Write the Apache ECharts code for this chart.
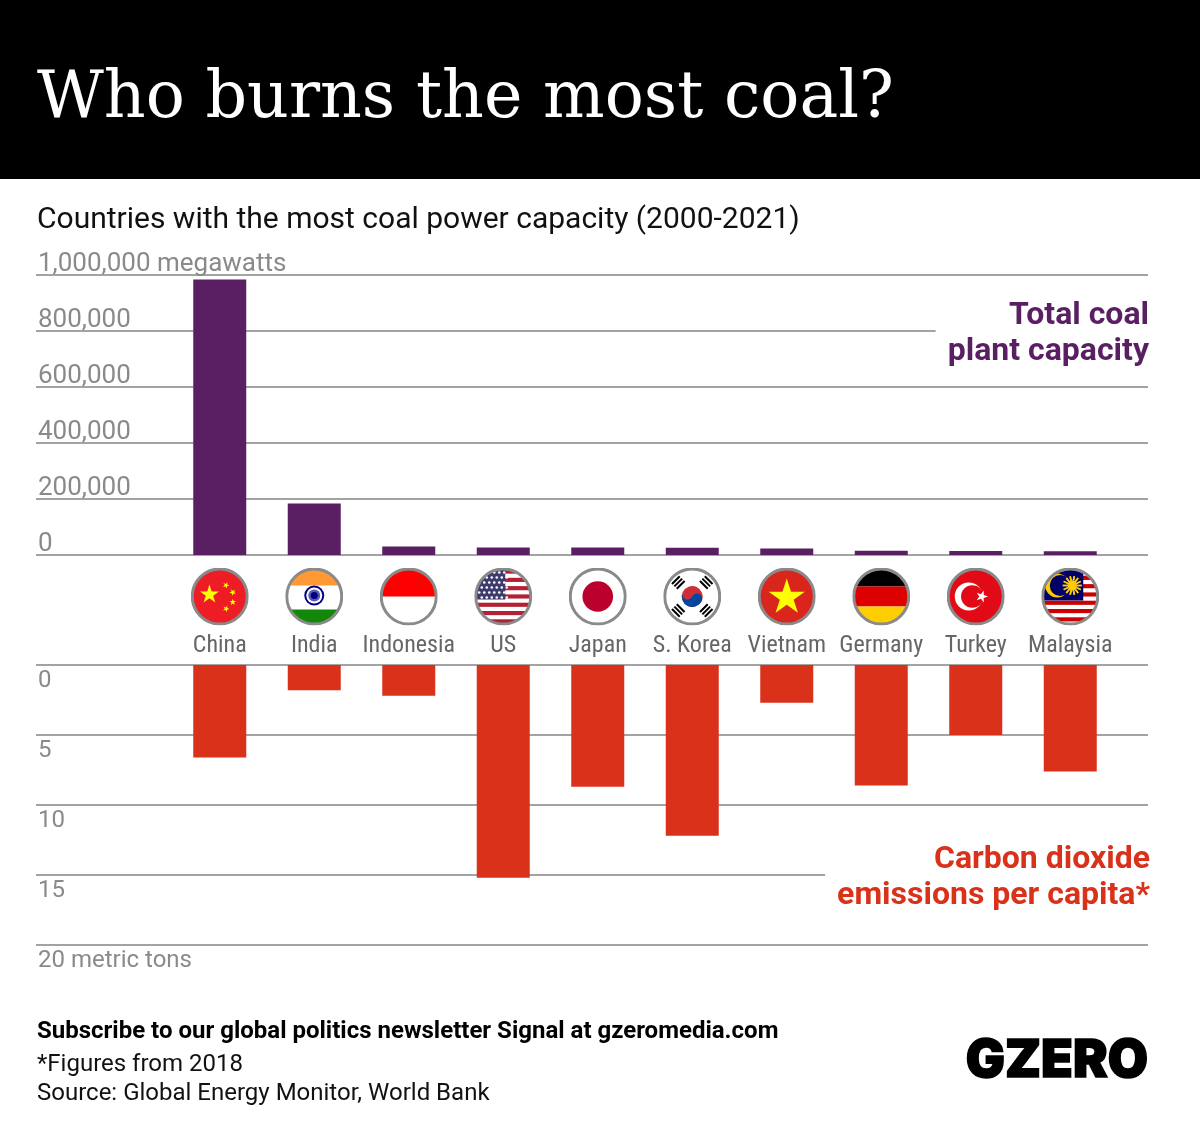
<!DOCTYPE html>
<html>
<head>
<meta charset="utf-8">
<title>Who burns the most coal?</title>
<style>
html, body { margin: 0; padding: 0; background: #fff; }
#chart { width: 1200px; height: 1126px; }
</style>
<script src="https://cdn.jsdelivr.net/npm/echarts@6/dist/echarts.min.js"></script>
</head>
<body>
<div id="chart"></div>
<script>
var countries = ['China', 'India', 'Indonesia', 'US', 'Japan', 'S. Korea', 'Vietnam', 'Germany', 'Turkey', 'Malaysia'];
var capacity = [984000, 184000, 30000, 27000, 27000, 26000, 23000, 15000, 14000, 13000];
var emissions = [6.6, 1.8, 2.2, 15.2, 8.7, 12.2, 2.7, 8.6, 5.0, 7.6];
var capacityTicks = { 0: '0', 200000: '200,000', 400000: '400,000', 600000: '600,000', 800000: '800,000', 1000000: '1,000,000 megawatts' };
var emissionTicks = { 0: '0', 5: '5', 10: '10', 15: '15', 20: '20 metric tons' };

var gridColor = '#a3a3a3';
var tickColor = '#8a8a8a';
var purple = '#5a1f63';
var red = '#da311b';

// flags are little svg pictures used as axis label backgrounds
function star(cx, cy, r, fill, rot) {
    var pts = [];
    for (var i = 0; i < 10; i++) {
        var a = (rot || 0) - Math.PI / 2 + i * Math.PI / 5;
        var d = i % 2 ? r * 0.382 : r;
        pts.push((cx + d * Math.cos(a)).toFixed(2) + ',' + (cy + d * Math.sin(a)).toFixed(2));
    }
    return '<polygon fill="' + fill + '" points="' + pts.join(' ') + '"/>';
}
function rect(x, y, w, h, fill) {
    return '<rect x="' + x + '" y="' + y + '" width="' + w + '" height="' + h + '" fill="' + fill + '"/>';
}
function circle(cx, cy, r, fill) {
    return '<circle cx="' + cx + '" cy="' + cy + '" r="' + r + '" fill="' + fill + '"/>';
}
function usFlag() {
    var s = rect(0, 0, 58, 58, '#fff');
    for (var i = 0; i < 7; i++) {
        s += rect(0, 2 + i * 8.3, 58, 4.15, '#b22234');
    }
    s += rect(0, 0, 31, 32, '#3c3b6e');
    for (var r = 0; r < 6; r++) {
        for (var c = 0; c < 6; c++) {
            s += circle(5 + c * 5 + (r % 2) * 2.5, 5 + r * 5, 1.3, '#fff');
        }
    }
    return s;
}
function malaysiaFlag() {
    var s = rect(0, 0, 58, 58, '#fff');
    for (var i = 0; i < 7; i++) {
        s += rect(0, i * 8.3, 58, 4.15, '#cc0001');
    }
    s += rect(0, 0, 42, 33, '#010066');
    s += circle(16, 18, 12, '#fc0') + circle(19, 18, 10.5, '#010066');
    for (var k = 0; k < 14; k++) {
        var a = k * Math.PI / 7;
        s += '<line x1="' + (31 - 9.5 * Math.cos(a)).toFixed(2) + '" y1="' + (18 - 9.5 * Math.sin(a)).toFixed(2) + '" x2="' + (31 + 9.5 * Math.cos(a)).toFixed(2) + '" y2="' + (18 + 9.5 * Math.sin(a)).toFixed(2) + '" stroke="#fc0" stroke-width="1.6"/>';
    }
    return s + circle(31, 18, 4.5, '#fc0');
}
function trigram(cx, cy, deg) {
    var s = '<g transform="rotate(' + deg + ' ' + cx + ' ' + cy + ')">';
    for (var i = -1; i <= 1; i++) {
        s += rect(cx - 5.5, cy + i * 3.4 - 1, 11, 2, '#000');
    }
    return s + '</g>';
}
function koreaFlag() {
    return rect(0, 0, 58, 58, '#fff')
        + '<g transform="rotate(25 29 29)">'
        + circle(29, 29, 10.5, '#cd2e3a')
        + '<path d="M18.5 29a10.5 10.5 0 0 0 21 0a5.25 5.25 0 0 0-10.5 0a5.25 5.25 0 0 1-10.5 0z" fill="#0047a0"/>'
        + '</g>'
        + trigram(15, 15, -45) + trigram(43, 15, 45) + trigram(15, 43, 45) + trigram(43, 43, -45);
}
var flags = [
    rect(0, 0, 58, 58, '#ee1c25') + star(18.7, 27, 10, '#ff0') + star(35.3, 17.7, 3.5, '#ff0', 0.4) + star(42, 24.7, 3.5, '#ff0', 0.8) + star(42, 34.7, 3.5, '#ff0') + star(35.3, 41.3, 3.5, '#ff0', 0.4),
    rect(0, 0, 58, 58, '#fff') + rect(0, 0, 58, 18, '#ff9933') + rect(0, 42, 58, 16, '#138808') + circle(29, 28, 10, '#000080') + circle(29, 28, 8, '#fff') + circle(29, 28, 6, '#5a5ab0') + circle(29, 28, 3.5, '#000080'),
    rect(0, 0, 58, 58, '#fff') + rect(0, 0, 58, 29, '#ff0000'),
    usFlag(),
    rect(0, 0, 58, 58, '#fff') + circle(29, 29, 15.3, '#bc002d'),
    koreaFlag(),
    rect(0, 0, 58, 58, '#da251d') + star(29, 30, 19, '#ff0'),
    rect(0, 0, 58, 19, '#000') + rect(0, 19, 58, 20, '#dd0000') + rect(0, 39, 58, 19, '#ffce00'),
    rect(0, 0, 58, 58, '#e30a17') + circle(22, 29, 14, '#fff') + circle(25.5, 29, 11.2, '#e30a17') + star(35, 29, 6.3, '#fff', 1.57),
    malaysiaFlag()
];
function flagUri(inner) {
    var svg = '<svg xmlns="http://www.w3.org/2000/svg" width="116" height="116" viewBox="0 0 58 58">'
        + '<defs><clipPath id="c"><circle cx="29" cy="29" r="27.5"/></clipPath></defs>'
        + '<g clip-path="url(#c)">' + inner + '</g>'
        + '<circle cx="29" cy="29" r="27.5" fill="none" stroke="#8a8a8a" stroke-width="3"/></svg>';
    return 'data:image/svg+xml;charset=utf-8,' + encodeURIComponent(svg);
}

var labelRich = {
    name: { fontFamily: '"Roboto Condensed", "Liberation Sans Narrow", Roboto', fontSize: 24, color: '#666', height: 40, lineHeight: 40, verticalAlign: 'middle' }
};
for (var i = 0; i < flags.length; i++) {
    labelRich['f' + i] = { backgroundColor: { image: flagUri(flags[i]) }, width: 58, height: 58 };
}

function tickAxis(gridIndex, top, min, max, step, ticks, inverse) {
    return {
        type: 'value',
        gridIndex: gridIndex,
        min: min,
        max: max,
        interval: step,
        inverse: inverse,
        axisLine: { show: false },
        axisTick: { show: false },
        splitLine: { show: true, lineStyle: { color: gridColor, width: 2 } },
        axisLabel: {
            inside: true,
            margin: 2,
            align: 'left',
            verticalAlign: top ? 'bottom' : 'top',
            lineHeight: top ? 21 : 24,
            padding: top ? [0, 0, 0, 0] : [4, 0, 0, 0],
            fontFamily: 'Roboto',
            fontSize: top ? 26 : 24,
            color: tickColor,
            formatter: function (v) { return ticks[v]; }
        }
    };
}
function hiddenY(gridIndex, min, max, inverse) {
    return { type: 'value', gridIndex: gridIndex, min: min, max: max, inverse: inverse, show: false, splitLine: { show: false } };
}

var option = {
    animation: false,
    backgroundColor: '#fff',
    // grids 0 and 2 only carry the long rules and tick labels, the bars sit in 1 and 3
    grid: [
        { left: 36, width: 1112, top: 275, height: 280 },
        { left: 172.5, width: 945, top: 275, height: 280 },
        { left: 36, width: 1112, top: 665, height: 280 },
        { left: 172.5, width: 945, top: 665, height: 280 }
    ],
    xAxis: [
        { type: 'category', gridIndex: 0, show: false, data: countries },
        {
            type: 'category', gridIndex: 1, data: countries,
            axisLine: { show: false }, axisTick: { show: false },
            axisLabel: {
                interval: 0,
                margin: 12.5,
                formatter: function (v) { return '{f' + countries.indexOf(v) + '| }\n{name|' + v + '}'; },
                rich: labelRich
            }
        },
        { type: 'category', gridIndex: 2, show: false, data: countries },
        { type: 'category', gridIndex: 3, show: false, data: countries }
    ],
    yAxis: [
        tickAxis(0, true, 0, 1000000, 200000, capacityTicks, false),
        hiddenY(1, 0, 1000000, false),
        tickAxis(2, false, 0, 20, 5, emissionTicks, true),
        hiddenY(3, 0, 20, true)
    ],
    series: [
        { name: 'Total coal plant capacity', type: 'bar', xAxisIndex: 1, yAxisIndex: 1, barWidth: 53, data: capacity, itemStyle: { color: purple } },
        { name: 'Carbon dioxide emissions per capita', type: 'bar', xAxisIndex: 3, yAxisIndex: 3, barWidth: 53, data: emissions, itemStyle: { color: red } }
    ],
    graphic: [
        { type: 'rect', z: 1, shape: { x: 0, y: 0, width: 1200, height: 179 }, style: { fill: '#000' } },
        { type: 'text', z: 2, x: 37, y: 100, style: { text: 'Who burns the most coal?', fill: '#fff', font: '65px "DejaVu Serif"', verticalAlign: 'middle' } },
        { type: 'text', z: 2, x: 37, y: 220, style: { text: 'Countries with the most coal power capacity (2000-2021)', fill: '#111', font: '30px Roboto', verticalAlign: 'middle' } },
        { type: 'text', z: 10, x: 1149, y: 298, style: { text: 'Total coal\nplant capacity', fill: purple, font: 'bold 32px Roboto', lineHeight: 36, align: 'right', backgroundColor: '#fff', padding: [0, 0, 0, 12] } },
        { type: 'text', z: 10, x: 1150, y: 842, style: { text: 'Carbon dioxide\nemissions per capita*', fill: red, font: 'bold 32px Roboto', lineHeight: 36, align: 'right', backgroundColor: '#fff', padding: [0, 0, 0, 12] } },
        { type: 'text', z: 2, x: 37, y: 1032, style: { text: 'Subscribe to our global politics newsletter Signal at gzeromedia.com', fill: '#000', font: 'bold 24px Roboto', verticalAlign: 'middle' } },
        { type: 'text', z: 2, x: 37, y: 1065, style: { text: '*Figures from 2018', fill: '#111', font: '24px Roboto', verticalAlign: 'middle' } },
        { type: 'text', z: 2, x: 37, y: 1094, style: { text: 'Source: Global Energy Monitor, World Bank', fill: '#111', font: '24px Roboto', verticalAlign: 'middle' } },
        { type: 'text', z: 2, x: 1148, y: 1061, style: { text: 'GZERO', fill: '#000', stroke: '#000', lineWidth: 1.5, font: '900 52px Inter', align: 'right', verticalAlign: 'middle' } }
    ]
};

var myChart = echarts.init(document.getElementById('chart'), null, { renderer: 'canvas' });
myChart.setOption(option);
</script>
</body>
</html>
